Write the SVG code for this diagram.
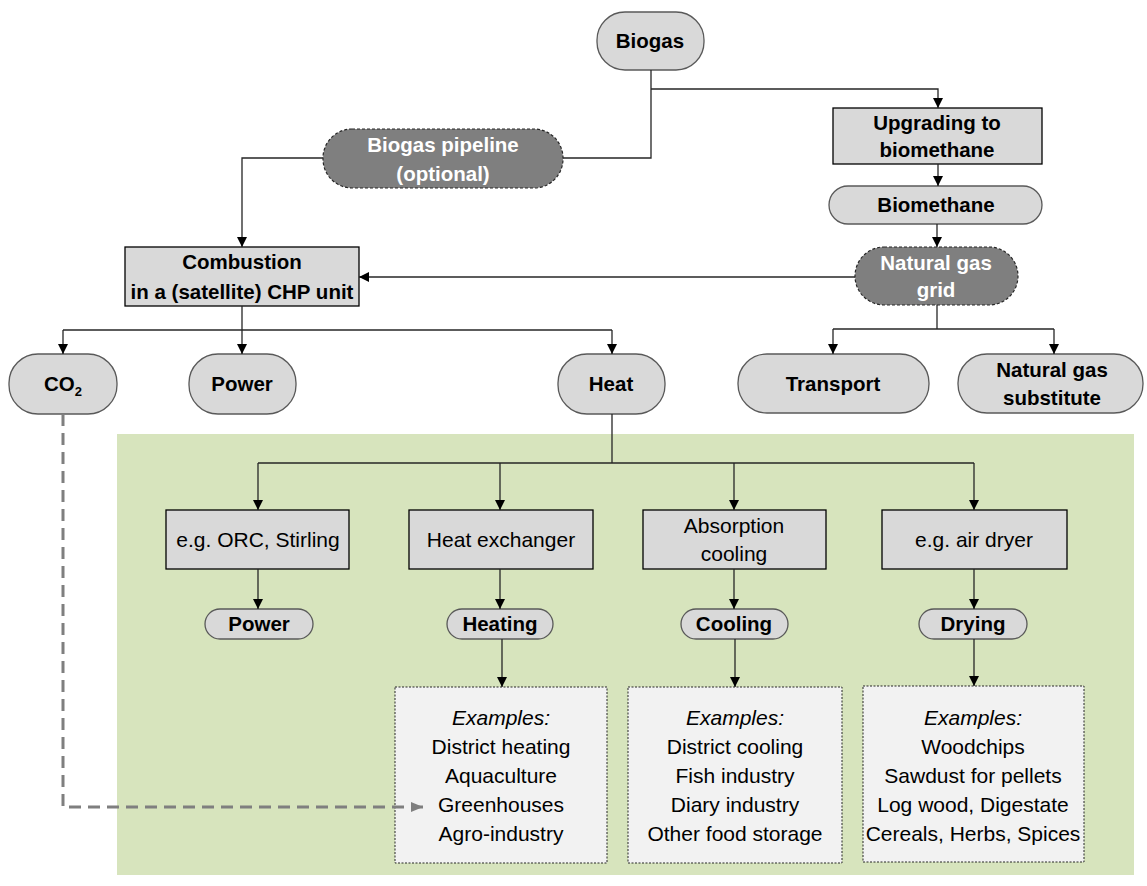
<svg xmlns="http://www.w3.org/2000/svg" width="1147" height="886" viewBox="0 0 1147 886">
<defs>
<marker id="arr" markerWidth="10" markerHeight="10" refX="10" refY="5" orient="auto" markerUnits="userSpaceOnUse">
<path d="M0,0 L10,5 L0,10 z" fill="#000"/>
</marker>
<marker id="arrg" markerWidth="12" markerHeight="12" refX="12" refY="6" orient="auto" markerUnits="userSpaceOnUse">
<path d="M0,1 L12,6 L0,11 z" fill="#7f7f7f"/>
</marker>
<style>
text{font-family:"Liberation Sans",Arial,sans-serif;font-size:21px;text-anchor:middle;fill:#000}
.b{font-weight:bold;font-size:20.5px}
.w{fill:#fff;font-weight:bold;font-size:20.5px}
.pill{fill:#d9d9d9;stroke:#595959;stroke-width:1.3}
.box{fill:#d9d9d9;stroke:#000;stroke-width:1.3}
.dark{fill:#7f7f7f;stroke:#262626;stroke-width:1.2;stroke-dasharray:3 2}
.ex{fill:#f2f2f2;stroke:#262626;stroke-width:1;stroke-dasharray:2 1.5}
.c{fill:none;stroke:#262626;stroke-width:1.3}
.ca{fill:none;stroke:#262626;stroke-width:1.3;marker-end:url(#arr)}
.i{font-style:italic}
</style>
</defs>
<rect x="117" y="434" width="1017" height="441" fill="#d7e4bd"/>
<g id="biogas"><rect class="pill" x="597" y="12" width="107" height="58" rx="28"/><text class="b" x="650" y="48">Biogas</text></g>
<g id="pipeline"><rect class="dark" x="323" y="129" width="240" height="59" rx="29"/><text class="w" x="443" y="152">Biogas pipeline</text><text class="w" x="443" y="181">(optional)</text></g>
<g id="upgrading"><rect class="box" x="833" y="108" width="209" height="56"/><text class="b" x="937" y="130">Upgrading to</text><text class="b" x="937" y="157">biomethane</text></g>
<g id="biomethane"><rect class="pill" x="829" y="186" width="213" height="38" rx="19"/><text class="b" x="936" y="212">Biomethane</text></g>
<g id="grid"><rect class="dark" x="855" y="247" width="163" height="58" rx="29"/><text class="w" x="936" y="270">Natural gas</text><text class="w" x="936" y="297">grid</text></g>
<g id="combustion"><rect class="box" x="125" y="247" width="234" height="59"/><text class="b" x="242" y="269">Combustion</text><text class="b" x="242" y="299">in a (satellite) CHP unit</text></g>
<g id="co2"><rect class="pill" x="9" y="354" width="108" height="60" rx="29"/><text class="b" x="63" y="391">CO<tspan font-size="13" dy="5">2</tspan></text></g>
<g id="power"><rect class="pill" x="189" y="354" width="107" height="60" rx="29"/><text class="b" x="242" y="391">Power</text></g>
<g id="heat"><rect class="pill" x="558" y="354" width="107" height="60" rx="29"/><text class="b" x="611" y="391">Heat</text></g>
<g id="transport"><rect class="pill" x="738" y="354" width="191" height="59" rx="29"/><text class="b" x="833" y="391">Transport</text></g>
<g id="ngsubstitute"><rect class="pill" x="958" y="354" width="185" height="59" rx="29"/><text class="b" x="1052" y="377">Natural gas</text><text class="b" x="1052" y="405">substitute</text></g>
<g id="orc"><rect class="box" x="166" y="510" width="183" height="59"/><text x="258" y="547">e.g. ORC, Stirling</text></g>
<g id="heatexchanger"><rect class="box" x="409" y="510" width="184" height="59"/><text x="501" y="547">Heat exchanger</text></g>
<g id="absorption"><rect class="box" x="643" y="510" width="183" height="59"/><text x="734" y="533">Absorption</text><text x="734" y="561">cooling</text></g>
<g id="airdryer"><rect class="box" x="882" y="510" width="185" height="59"/><text x="974" y="547">e.g. air dryer</text></g>
<g id="power2"><rect class="pill" x="205" y="609" width="108" height="30" rx="15"/><text class="b" x="259" y="631">Power</text></g>
<g id="heating"><rect class="pill" x="447" y="609" width="106" height="30" rx="15"/><text class="b" x="500" y="631">Heating</text></g>
<g id="cooling"><rect class="pill" x="681" y="609" width="107" height="30" rx="15"/><text class="b" x="734" y="631">Cooling</text></g>
<g id="drying"><rect class="pill" x="919" y="609" width="108" height="30" rx="15"/><text class="b" x="973" y="631">Drying</text></g>
<g id="ex-heating"><rect class="ex" x="395" y="687" width="212" height="176"/><text class="i" x="501" y="725">Examples:</text><text x="501" y="754">District heating</text><text x="501" y="783">Aquaculture</text><text x="501" y="812">Greenhouses</text><text x="501" y="841">Agro-industry</text></g>
<g id="ex-cooling"><rect class="ex" x="628" y="687" width="214" height="176"/><text class="i" x="735" y="725">Examples:</text><text x="735" y="754">District cooling</text><text x="735" y="783">Fish industry</text><text x="735" y="812">Diary industry</text><text x="735" y="841">Other food storage</text></g>
<g id="ex-drying"><rect class="ex" x="863" y="686" width="221" height="176"/><text class="i" x="973" y="725">Examples:</text><text x="973" y="754">Woodchips</text><text x="973" y="783">Sawdust for pellets</text><text x="973" y="812">Log wood, Digestate</text><text x="973" y="841">Cereals, Herbs, Spices</text></g>
<g id="connectors">
<path class="c" d="M651,70 V158 H563"/>
<path class="ca" d="M651,89 H938 V108"/>
<path class="ca" d="M323,158 H242 V247"/>
<path class="ca" d="M938,164 V186"/>
<path class="ca" d="M937,224 V247"/>
<path class="ca" d="M855,277 H359"/>
<path class="ca" d="M242,306 V354"/>
<path class="c" d="M63,330 H612"/>
<path class="ca" d="M63,330 V354"/>
<path class="ca" d="M612,330 V354"/>
<path class="c" d="M937,305 V329"/>
<path class="c" d="M833,329 H1054"/>
<path class="ca" d="M833,329 V354"/>
<path class="ca" d="M1054,329 V354"/>
<path class="c" d="M612,414 V463"/>
<path class="c" d="M258,463 H974"/>
<path class="ca" d="M258,463 V510"/>
<path class="ca" d="M500,463 V510"/>
<path class="ca" d="M734,463 V510"/>
<path class="ca" d="M974,463 V510"/>
<path class="ca" d="M258,569 V609"/>
<path class="ca" d="M500,569 V609"/>
<path class="ca" d="M734,569 V609"/>
<path class="ca" d="M974,569 V609"/>
<path class="ca" d="M502,639 V687"/>
<path class="ca" d="M735,639 V687"/>
<path class="ca" d="M974,639 V686"/>
<path d="M63,414 V807 H423" fill="none" stroke="#7f7f7f" stroke-width="3" stroke-dasharray="12 7" marker-end="url(#arrg)"/>
</g>
</svg>
